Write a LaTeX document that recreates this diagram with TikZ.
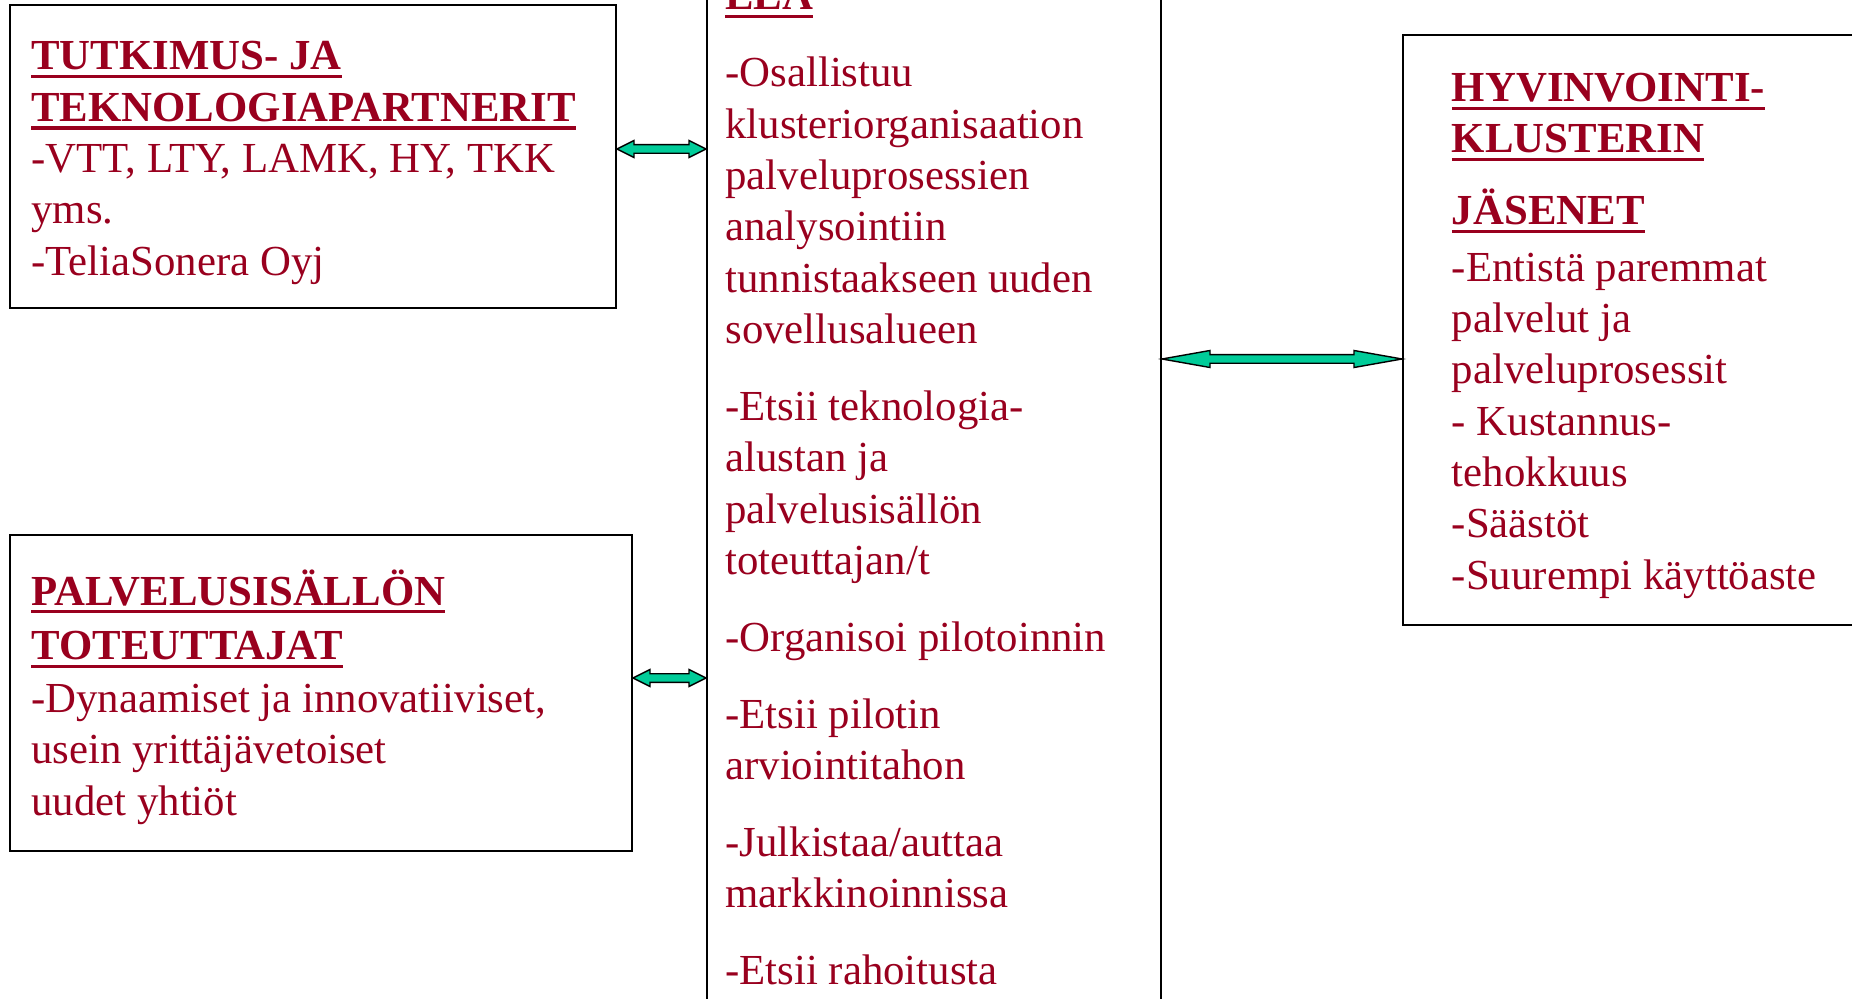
\documentclass[tikz,border=0pt]{standalone}
\usepackage{fontspec}
\setmainfont{Liberation Serif}
\usetikzlibrary{calc}
\definecolor{textred}{RGB}{153,0,30}
\definecolor{arrowgreen}{RGB}{0,204,153}
% underlined heading words
\newcommand{\ulin}[1]{\setbox0\hbox{#1}\rlap{\rule[-4.2pt]{\wd0}{1.7pt}}\box0}
% block arrow with two heads: left tip, right tip, head length
\newcommand{\dblarrow}[3]{%
\filldraw[conn] (#1) -- ($(#1)+(#3,-8.5)$) -- ($(#1)+(#3,-4.3)$) -- ($(#2)+(-#3,-4.3)$)
  -- ($(#2)+(-#3,-8.5)$) -- (#2) -- ($(#2)+(-#3,8.5)$) -- ($(#2)+(-#3,4.3)$)
  -- ($(#1)+(#3,4.3)$) -- ($(#1)+(#3,8.5)$) -- cycle;}
\begin{document}
\begin{tikzpicture}[x=0.5pt,y=-0.5pt,
  box/.style={draw=black,line width=1pt,rectangle,anchor=north west,inner sep=0pt},
  txt/.style={anchor=base west,inner sep=0pt,text=textred,font=\fontsize{21.4}{25.65}\selectfont},
  conn/.style={fill=arrowgreen,draw=black,line width=0.7pt,line join=miter}]
\useasboundingbox (0,0) rectangle (1852,999);
\clip (0,0) rectangle (1852,999);
%
\node[box,minimum width=303pt,minimum height=151.5pt] (tutk) at (9,4) {};
\node[box,minimum width=311pt,minimum height=158pt] (palv) at (9,534) {};
\node[box,minimum width=227pt,minimum height=550pt] (ela) at (706,-50) {};
\node[box,minimum width=274pt,minimum height=295pt] (hyv) at (1402,34) {};
%
\node[txt] (tutktext) at (31,70) {\begin{tabular}[t]{@{}l@{}}
\textbf{\ulin{TUTKIMUS- JA}}\\
\textbf{\ulin{TEKNOLOGIAPARTNERIT}}\\
-VTT, LTY, LAMK, HY, TKK\\
yms.\\
-TeliaSonera Oyj
\end{tabular}};
\node[txt] (palvtext) at (31,605) {\begin{tabular}[t]{@{}l@{}}
\textbf{\ulin{PALVELUSISÄLLÖN}}\\[1.75pt]
\textbf{\ulin{TOTEUTTAJAT}}\\[0.75pt]
-Dynaamiset ja innovatiiviset,\\
usein yrittäjävetoiset\\
uudet yhtiöt
\end{tabular}};
\node[txt] (elatext) at (725,10) {\begin{tabular}[t]{@{}l@{}}
\textbf{\ulin{ELA}}\\[12.85pt]
-Osallistuu\\
klusteriorganisaation\\
palveluprosessien\\
analysointiin\\
tunnistaakseen uuden\\
sovellusalueen\\[12.85pt]
-Etsii teknologia-\\
alustan ja\\
palvelusisällön\\
toteuttajan/t\\[12.85pt]
-Organisoi pilotoinnin\\[12.85pt]
-Etsii pilotin\\
arviointitahon\\[12.85pt]
-Julkistaa/auttaa\\
markkinoinnissa\\[12.85pt]
-Etsii rahoitusta
\end{tabular}};
\node[txt] (hyvtext) at (1451.5,101.6) {\begin{tabular}[t]{@{}l@{}}
\textbf{\ulin{HYVINVOINTI-}}\\
\textbf{\ulin{KLUSTERIN}}\\[10.4pt]
\textbf{\ulin{JÄSENET}}\\[2.5pt]
-Entistä paremmat\\
palvelut ja\\
palveluprosessit\\
- Kustannus-\\
tehokkuus\\
-Säästöt\\
-Suurempi käyttöaste
\end{tabular}};
%
\coordinate (a1l) at ([yshift=3.75pt]tutk.east);
\coordinate (a1r) at (a1l -| ela.west);
\coordinate (a2r) at ([yshift=-14.5pt]hyv.west);
\coordinate (a2l) at (a2r -| ela.east);
\coordinate (a3l) at ([yshift=7.5pt]palv.east);
\coordinate (a3r) at (a3l -| ela.west);
\dblarrow{a1l}{a1r}{17}
\dblarrow{a2l}{a2r}{48}
\dblarrow{a3l}{a3r}{17}
%
\end{tikzpicture}
\end{document}
